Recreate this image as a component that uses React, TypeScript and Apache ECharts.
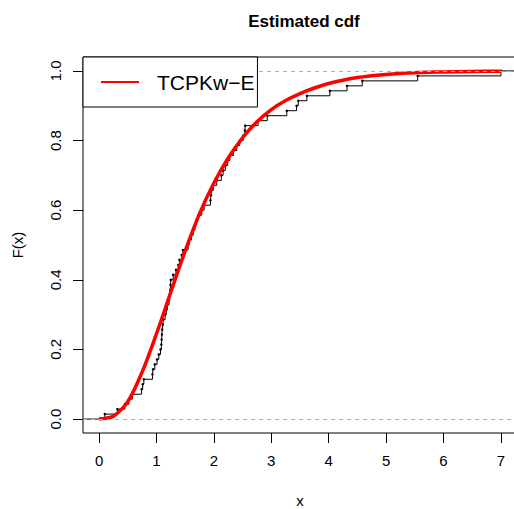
import React, { useEffect, useRef } from "react";
import * as echarts from "echarts";

const sampleX = [
  0.10, 0.32, 0.45, 0.52, 0.58, 0.74, 0.76, 0.78, 0.93, 0.94,
  0.97, 1.01, 1.04, 1.07, 1.085, 1.09, 1.095, 1.10, 1.11, 1.12,
  1.15, 1.17, 1.19, 1.22, 1.23, 1.24, 1.245, 1.25, 1.29, 1.34,
  1.38, 1.40, 1.44, 1.46, 1.55, 1.57, 1.61, 1.64, 1.67, 1.70,
  1.73, 1.79, 1.83, 1.94, 1.95, 1.96, 1.99, 2.05, 2.13, 2.16,
  2.20, 2.24, 2.28, 2.34, 2.40, 2.45, 2.51, 2.54, 2.545, 2.77,
  2.93, 3.27, 3.44, 3.47, 3.62, 4.02, 4.32, 4.585, 5.55, 7.0,
];

// Fitted TCPKw-E cdf
const fitX = [0, 0.1, 0.25, 0.5, 0.75, 1.0, 1.25, 1.5, 1.75, 2.0, 2.25, 2.5, 2.75, 3.0, 3.25, 3.5, 3.75, 4.0, 4.5, 5.0, 5.5, 6.0, 6.5, 7.0];
const fitF = [0, 0.002, 0.008, 0.05, 0.135, 0.245, 0.365, 0.483, 0.59, 0.678, 0.75, 0.808, 0.854, 0.889, 0.915, 0.935, 0.951, 0.964, 0.981, 0.99, 0.995, 0.997, 0.9985, 0.999];

const xTicks = [0, 1, 2, 3, 4, 5, 6, 7];
const yTicks = [0, 0.2, 0.4, 0.6, 0.8, 1.0];
const xRange = [-0.28, 7.28];
const yRange = [-0.04, 1.04];
const legendName = "TCPKw\u2212E";

export default function App() {
  const ref = useRef<HTMLDivElement>(null);
  useEffect(() => {
    if (!ref.current) return;
    const chart = echarts.init(ref.current, null, { renderer: "svg" });
    const n = sampleX.length;
    const ecdfData: any[] = [{ value: [xRange[0], 0], symbol: "none" }];
    sampleX.forEach((x, i) => ecdfData.push([x, (i + 1) / n]));
    ecdfData.push({ value: [xRange[1], 1], symbol: "none" });
    const font = "'Liberation Sans', Arial, Helvetica, sans-serif";
    chart.setOption({
      animation: false,
      textStyle: { fontFamily: font },
      title: {
        text: "Estimated cdf",
        left: 299,
        textAlign: "center",
        top: 8,
        textStyle: { fontSize: 17, fontWeight: "bold", color: "#000", fontFamily: font },
      },
      grid: {
        left: 83,
        right: -3,
        top: 57,
        bottom: 76,
        containLabel: false,
        outerBoundsMode: "none",
        show: true,
        borderColor: "#000",
        borderWidth: 1,
        backgroundColor: "transparent",
      },
      legend: {
        data: [legendName],
        icon: "rect",
        left: 83,
        top: 57,
        orient: "horizontal",
        backgroundColor: "#fff",
        borderColor: "#000",
        borderWidth: 1,
        borderRadius: 0,
        padding: [13, 3, 13, 18],
        itemWidth: 38,
        itemHeight: 2,
        selectedMode: false,
        lineStyle: { width: 2 },
        textStyle: { fontSize: 21, color: "#000", fontFamily: font, padding: [0, 0, 0, 13], lineHeight: 24 },
        z: 10,
      },
      xAxis: {
        type: "value",
        min: xRange[0],
        max: xRange[1],
        splitLine: { show: false },
        axisLine: { show: false, onZero: false },
        axisTick: { show: true, length: 10, customValues: xTicks, lineStyle: { color: "#000" } },
        axisLabel: { customValues: xTicks, fontSize: 15, color: "#000", margin: 20, fontFamily: font },
        name: "x",
        nameLocation: "middle",
        nameGap: 60,
        nameTextStyle: { fontSize: 15, color: "#000", fontFamily: font },
      },
      yAxis: {
        type: "value",
        min: yRange[0],
        max: yRange[1],
        splitLine: { show: false },
        axisLine: { show: false, onZero: false },
        axisTick: { show: true, length: 10, customValues: yTicks, lineStyle: { color: "#000" } },
        axisLabel: {
          customValues: yTicks,
          rotate: 90,
          fontSize: 15,
          color: "#000",
          margin: 20,
          fontFamily: font,
          formatter: (v: number) => v.toFixed(1),
        },
        name: "F(x)",
        nameLocation: "middle",
        nameGap: 58,
        nameTextStyle: { fontSize: 15, color: "#000", fontFamily: font },
      },
      series: [
        {
          name: "ecdf",
          type: "line",
          step: "end",
          data: ecdfData,
          symbol: "circle",
          symbolSize: 2.5,
          showSymbol: true,
          itemStyle: { color: "#000" },
          lineStyle: { color: "#000", width: 1 },
          z: 3,
          markLine: {
            silent: true,
            symbol: "none",
            label: { show: false },
            lineStyle: { color: "#b3b3b3", type: [4, 4], width: 1 },
            data: [{ yAxis: 0 }, { yAxis: 1 }],
          },
        },
        {
          name: legendName,
          type: "line",
          data: fitX.map((x, i) => [x, fitF[i]]),
          smooth: 0.3,
          symbol: "none",
          itemStyle: { color: "#ff0000" },
          lineStyle: { color: "#ff0000", width: 3.5 },
          z: 4,
        },
      ],
    });
    return () => chart.dispose();
  }, []);
  return <div ref={ref} style={{ width: 514, height: 509, position: "absolute", left: 0, top: 0 }} />;
}
